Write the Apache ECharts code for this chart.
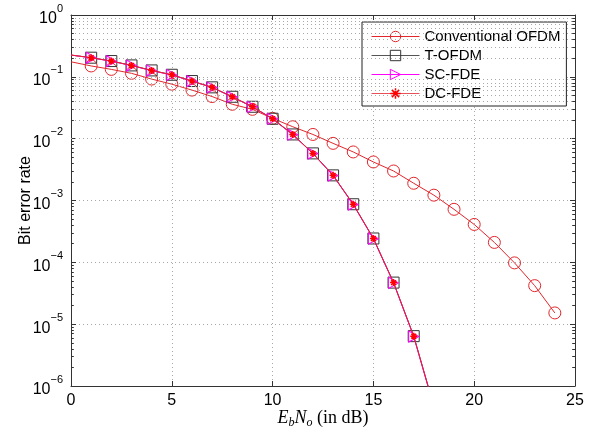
<!DOCTYPE html>
<html><head><meta charset="utf-8">
<script src="https://cdn.jsdelivr.net/npm/echarts@6/dist/echarts.min.js"></script>
<style>html,body{margin:0;padding:0;background:#fff}#c{width:592px;height:430px}</style>
</head><body><div id="c"></div>
<script>
// ---- data ----
const seriesNames = ['Conventional OFDM', 'T-OFDM', 'SC-FDE', 'DC-FDE'];
const ebnoConv = [0,1,2,3,4,5,6,7,8,9,10,11,12,13,14,15,16,17,18,19,20,21,22,23,24];
const berConv = [0.175,0.15,0.132,0.114,0.092,0.076,0.061,0.048,0.036,0.0298,0.0213,0.0156,0.0117,0.0084,0.0061,0.0042,0.0030,0.0019,0.00122,0.00072,0.00041,0.00021,0.000098,0.000042,0.0000152];
const ebnoFast = [0,1,2,3,4,5,6,7,8,9,10,11,12,13,14,15,16,17,18];
const berTOFDM = [0.225,0.204,0.18,0.153,0.127,0.108,0.0855,0.0676,0.0476,0.0328,0.021,0.0117,0.00578,0.00255,0.00087,0.000243,0.000047,0.0000064,0.00000047];
const berSCFDE = [0.225,0.203,0.179,0.152,0.126,0.107,0.085,0.0672,0.0473,0.0326,0.0209,0.0116,0.00575,0.00253,0.00086,0.000241,0.0000465,0.0000063,0.00000046];
const berDCFDE = [0.225,0.204,0.18,0.153,0.127,0.108,0.0855,0.0676,0.0476,0.0328,0.021,0.0117,0.00578,0.00255,0.00087,0.000243,0.000047,0.0000064,0.00000047];
// markers only on these x values
const markerXConv = [1,24];
const markerXFast = [1,17];
const xTicks = [0,5,10,15,20,25];
const yDecades = [1e-6,1e-5,1e-4,1e-3,1e-2,1e-1,1];
const minorMultipliers = [2,3,4,5,6,7,8,9];

// ---- build ----
function pts(xs, ys, range){
  return xs.map((x,i)=>{
    const o = {value:[x, ys[i]]};
    if (x < range[0] || x > range[1]) o.symbol = 'none';
    return o;
  });
}
const minorVals = [];
for (let d = 0; d < yDecades.length-1; d++) for (const m of minorMultipliers) minorVals.push(m*yDecades[d]);

const gridColor = '#a8a8a8';
const axisColor = '#333';
const sans = 'Liberation Sans, Arial, sans-serif';
const serif = 'Liberation Serif, serif';
const asterisk = 'path://M5,0 L5,10 M0,5 L10,5 M1.5,1.5 L8.5,8.5 M1.5,8.5 L8.5,1.5';
const colors = {conv:'#e3262b', t:'#333', tLine:'#555', sc:'#ff00ff', dc:'#ff0000', dcLine:'#e8505a'};
const hollow = 'rgba(0,0,0,0)';

const minorGridLines = minorVals.map(v=>({yAxis:v}));
const minorTicksL = minorVals.map(v=>[{coord:[0,v]},{coord:[0.14,v]}]);
const minorTicksR = minorVals.map(v=>[{coord:[24.86,v]},{coord:[25,v]}]);

const chart = echarts.init(document.getElementById('c'), null, {renderer:'canvas'});
chart.setOption({
  animation:false,
  backgroundColor:'#fff',
  grid:{left:71, right:17, top:15, bottom:44, outerBoundsMode:'none', containLabel:false},
  legend:{
    data:[
      {name:seriesNames[0], itemStyle:{color:hollow, borderColor:colors.conv, borderWidth:1}, lineStyle:{color:colors.conv, width:1}},
      {name:seriesNames[1], itemStyle:{color:hollow, borderColor:colors.t, borderWidth:1}, lineStyle:{color:colors.tLine, width:1}},
      {name:seriesNames[2], itemStyle:{color:hollow, borderColor:colors.sc, borderWidth:1}, lineStyle:{color:colors.sc, width:1}},
      {name:seriesNames[3], itemStyle:{color:hollow, borderColor:colors.dc, borderWidth:1.5}, lineStyle:{color:colors.dcLine, width:1}}
    ],
    orient:'vertical', left:362, top:22,
    padding:[6,6,4,9], itemGap:2, itemWidth:48, itemHeight:13,
    backgroundColor:'#fff', borderColor:'#222', borderWidth:1,
    textStyle:{fontFamily:sans, fontSize:15, color:'#000', lineHeight:17}
  },
  xAxis:[{
    type:'value', min:0, max:25, interval:5,
    axisLine:{show:true, onZero:false, lineStyle:{color:axisColor}},
    axisTick:{inside:true, length:5, lineStyle:{color:axisColor}},
    axisLabel:{fontFamily:sans, fontSize:16, color:'#000', margin:7},
    splitLine:{show:true, lineStyle:{color:gridColor, type:[1,3], width:1}},
    name:'{i|E}{sub|b}{i|N}{sub|o}{r| (in dB)}', nameLocation:'middle', nameGap:21, nameMoveOverlap:false,
    nameTextStyle:{rich:{
      i:{fontFamily:serif, fontStyle:'italic', fontSize:18, color:'#000', lineHeight:22, verticalAlign:'middle'},
      sub:{fontFamily:serif, fontStyle:'italic', fontSize:12, color:'#000', lineHeight:22, verticalAlign:'bottom'},
      r:{fontFamily:serif, fontSize:18, color:'#000', lineHeight:22, verticalAlign:'middle'}
    }}
  },{
    type:'value', min:0, max:25, interval:5, position:'top',
    axisLine:{show:true, onZero:false, lineStyle:{color:axisColor}},
    axisTick:{inside:true, length:5, lineStyle:{color:axisColor}},
    axisLabel:{show:false}, splitLine:{show:false}
  }],
  yAxis:[{
    type:'log', logBase:10, min:1e-6, max:1,
    axisLine:{show:true, onZero:false, lineStyle:{color:axisColor}},
    axisTick:{inside:true, length:5, lineStyle:{color:axisColor}},
    axisLabel:{margin:8, formatter:v=>{const e=Math.round(Math.log10(v)); return '{b|10}{s|'+(e===0?'0':'\u2212'+(-e))+'}';},
      rich:{b:{fontFamily:sans, fontSize:16, color:'#000', lineHeight:24, verticalAlign:'bottom'},
            s:{fontFamily:sans, fontSize:11, color:'#000', lineHeight:24, verticalAlign:'top'}}},
    splitLine:{show:true, lineStyle:{color:gridColor, type:[1,3], width:1}},
    name:'Bit error rate', nameLocation:'middle', nameGap:37, nameRotate:90, nameMoveOverlap:false,
    nameTextStyle:{fontFamily:sans, fontSize:16, color:'#000'}
  },{
    type:'log', logBase:10, min:1e-6, max:1, position:'right',
    axisLine:{show:true, onZero:false, lineStyle:{color:axisColor}},
    axisTick:{inside:true, length:5, lineStyle:{color:axisColor}},
    axisLabel:{show:false}, splitLine:{show:false}
  }],
  series:[
    {
      name:'grid-minor', type:'line', data:[], silent:true, legendHoverLink:false,
      markLine:{silent:true, symbol:'none', label:{show:false}, animation:false,
        lineStyle:{color:gridColor, type:[1,3], width:1},
        data:minorGridLines}
    },
    {
      name:'ticks-minor', type:'line', data:[], silent:true,
      markLine:{silent:true, symbol:'none', label:{show:false}, animation:false,
        lineStyle:{color:axisColor, type:'solid', width:1},
        data:minorTicksL.concat(minorTicksR)}
    },
    {
      name:seriesNames[0], type:'line', data:pts(ebnoConv, berConv, markerXConv), z:3,
      symbol:'circle', symbolSize:12,
      lineStyle:{color:colors.conv, width:1},
      itemStyle:{color:hollow, borderColor:colors.conv, borderWidth:1}
    },
    {
      name:seriesNames[1], type:'line', data:pts(ebnoFast, berTOFDM, markerXFast), z:4,
      symbol:'rect', symbolSize:11,
      lineStyle:{color:colors.tLine, width:1},
      itemStyle:{color:hollow, borderColor:colors.t, borderWidth:1}
    },
    {
      name:seriesNames[2], type:'line', data:pts(ebnoFast, berSCFDE, markerXFast), z:5,
      symbol:'triangle', symbolRotate:-90, symbolSize:[11,10],
      lineStyle:{color:colors.sc, width:1},
      itemStyle:{color:hollow, borderColor:colors.sc, borderWidth:1}
    },
    {
      name:seriesNames[3], type:'line', data:pts(ebnoFast, berDCFDE, markerXFast), z:6,
      symbol:asterisk, symbolSize:7,
      lineStyle:{color:'#e8202a', width:1},
      itemStyle:{color:hollow, borderColor:colors.dc, borderWidth:1.5}
    }
  ]
});
</script>
</body></html>
